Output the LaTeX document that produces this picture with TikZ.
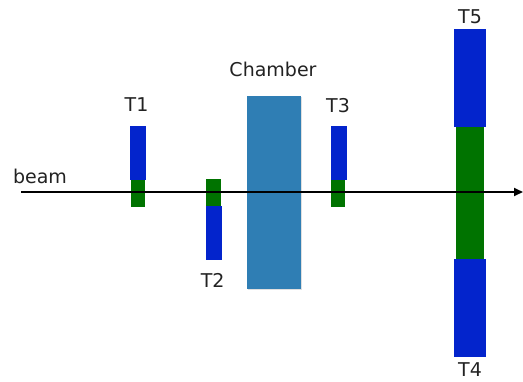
\documentclass[tikz,border=0pt]{standalone}
\usepackage{fontspec}
\setmainfont{DejaVu Sans}
\usetikzlibrary{arrows.meta,shadows}
\definecolor{detblue}{HTML}{0324CC}
\definecolor{detgreen}{HTML}{007300}
\definecolor{chamb}{HTML}{2F7EB4}
\definecolor{txt}{HTML}{222222}
\tikzset{
  box/.style={inner sep=0pt, outer sep=0pt, draw=none},
  bluebox/.style={box, fill=detblue, minimum width=#1},
  greenbox/.style={box, fill=detgreen, minimum width=#1},
  lbl/.style={inner sep=0pt, text=txt, font=\fontsize{19}{22}\selectfont},
  beamline/.style={line width=1.8pt, -{Triangle[length=9pt,width=8pt]}}
}
\begin{document}
\begin{tikzpicture}[x=1pt,y=-1pt]
\useasboundingbox (0,0) rectangle (523,381);
% chamber
\node[box, fill=chamb, minimum width=54pt, minimum height=193.6pt,
  drop shadow={opacity=0.25, shadow xshift=1pt, shadow yshift=-1pt}] (ch) at (273.7,192.5) {};
\node[lbl] (chl) at (273,69) {Chamber};
% T1
\node[bluebox=16pt, minimum height=54pt] (t1b) at (138,152.9) {};
\node[greenbox=14pt, minimum height=27pt] (t1g) at (138,193.4) {};
\node[lbl] (t1l) at (136.5,105) {T1};
% T2
\node[greenbox=15pt, minimum height=27pt] (t2g) at (213.5,192.5) {};
\node[bluebox=16pt, minimum height=54pt] (t2b) at (214,233) {};
\node[lbl] (t2l) at (212.7,280) {T2};
% T3
\node[bluebox=16pt, minimum height=54pt] (t3b) at (339,153) {};
\node[greenbox=14pt, minimum height=27pt] (t3g) at (338,193.4) {};
\node[lbl] (t3l) at (338,106) {T3};
% T5 / T4
\node[bluebox=32pt, minimum height=97.7pt] (t5b) at (470,77.8) {};
\node[greenbox=28pt, minimum height=132.3pt] (t45g) at (470,192.8) {};
\node[bluebox=32pt, minimum height=97.7pt] (t4b) at (470,307.8) {};
\node[lbl] (t5l) at (470,17) {T5};
\node[lbl] (t4l) at (470,370) {T4};
% beam
\node[lbl] (bl) at (40,176) {beam};
\coordinate (bs) at (21,192);
\coordinate (be) at (523,192);
\draw[beamline] (bs) -- (be);
\end{tikzpicture}
\end{document}
